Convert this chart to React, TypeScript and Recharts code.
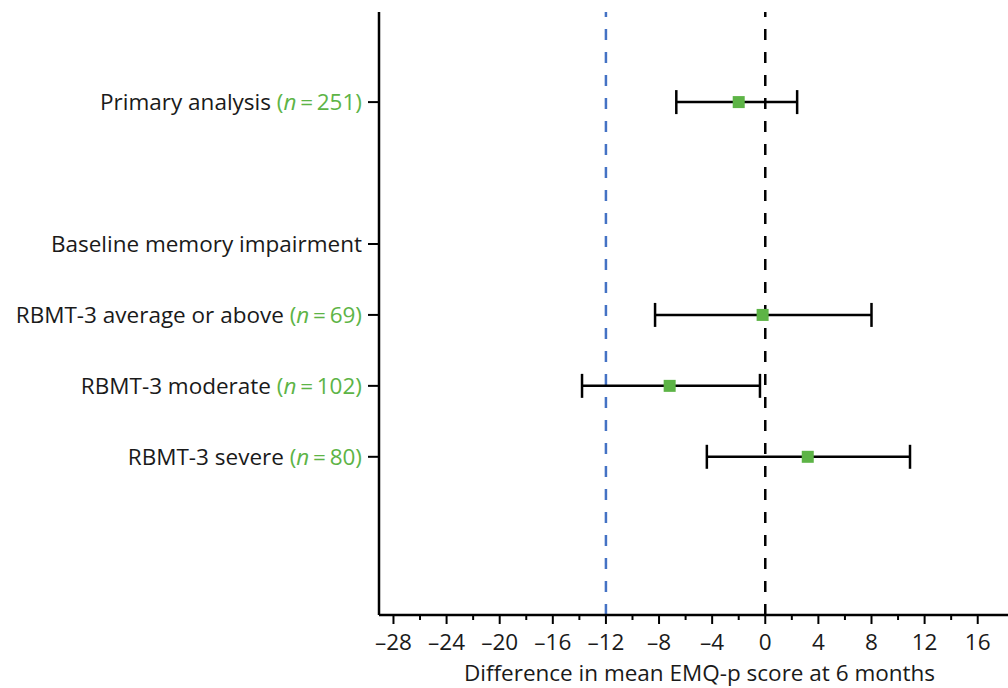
import { ScatterChart, Scatter, XAxis, YAxis, ReferenceLine, ErrorBar } from "recharts"

// forest plot: difference in mean EMQ-p score at 6 months

const rowLabels = [
  "Primary analysis",
  "Baseline memory impairment",
  "RBMT-3 average or above",
  "RBMT-3 moderate",
  "RBMT-3 severe",
]
const rowIndex = [1, 3, 4, 5, 6]
const sampleSizes: (number | null)[] = [251, null, 69, 102, 80]
const means: (number | null)[] = [-2.0, null, -0.2, -7.2, 3.2]
const lowerCI: (number | null)[] = [-6.7, null, -8.3, -13.8, -4.4]
const upperCI: (number | null)[] = [2.4, null, 8.0, -0.4, 10.9]

const xTicks = [-28, -26, -24, -22, -20, -18, -16, -14, -12, -10, -8, -6, -4, -2, 0, 2, 4, 6, 8, 10, 12, 14, 16]
const margin = -12 // non-inferiority margin
const noEffect = 0

const GREEN = "#5DB446"
const TEXT = "#1a1a1a"
const FONT = "'Open Sans', sans-serif"

const points = rowLabels
  .map((label, i) => ({
    label,
    row: rowIndex[i],
    mean: means[i],
    err: means[i] == null ? null : [means[i]! - lowerCI[i]!, upperCI[i]! - means[i]!],
  }))
  .filter((p) => p.mean != null)

const XTick = ({ x, y, payload }: any) => {
  const v = payload.value as number
  const major = v % 4 === 0
  return (
    <g>
      <line x1={x} x2={x} y1={y} y2={y + (major ? 9 : 5)} stroke="#000" strokeWidth={2} />
      {major && (
        <text x={x} y={y + 35} textAnchor="middle" fontSize={22.5} fontFamily={FONT} fill={TEXT}>
          {v < 0 ? `\u2013${Math.abs(v)}` : v}
        </text>
      )}
    </g>
  )
}

const YTick = ({ x, y, payload }: any) => {
  const i = rowIndex.indexOf(payload.value)
  if (i < 0) return null
  const n = sampleSizes[i]
  return (
    <g>
      <line x1={x - 11} x2={x} y1={y} y2={y} stroke="#000" strokeWidth={2} />
      <text x={x - 17} y={y} dy="0.35em" textAnchor="end" fontSize={22.5} fontFamily={FONT} fill={TEXT}>
        {rowLabels[i]}
        {n != null && (
          <tspan fill={GREEN}>
            {" ("}
            <tspan fontStyle="italic">n</tspan>
            {"\u2009=\u2009" + n + ")"}
          </tspan>
        )}
      </text>
    </g>
  )
}

const Square = (props: any) => {
  const { cx, cy } = props
  if (cx == null || cy == null) return null
  return <rect x={cx - 6} y={cy - 6} width={12} height={12} fill={GREEN} />
}

export default function App() {
  return (
    <div style={{ position: "absolute", left: 0, top: 0, background: "#fff" }}>
      <ScatterChart width={1008} height={688} margin={{ top: 12, right: 0, bottom: 0, left: 0 }}>
        <XAxis
          type="number"
          dataKey="mean"
          domain={[-29.09, 18.28]}
          allowDataOverflow
          ticks={xTicks}
          interval={0}
          height={73}
          tickLine={false}
          tickSize={0}
          tickMargin={0}
          axisLine={{ stroke: "#000", strokeWidth: 2.5 }}
          tick={<XTick />}
          label={{
            value: "Difference in mean EMQ-p score at 6 months",
            position: "insideBottom",
            offset: 7,
            dx: 6,
            fontSize: 22.5,
            fontFamily: FONT,
            fill: TEXT,
          }}
        />
        <YAxis
          type="number"
          dataKey="row"
          reversed
          domain={[-0.27, 8.23]}
          allowDataOverflow
          ticks={rowIndex}
          interval={0}
          width={379}
          tickLine={false}
          tickSize={0}
          tickMargin={0}
          axisLine={{ stroke: "#000", strokeWidth: 2.5 }}
          tick={<YTick />}
        />
        <ReferenceLine x={margin} stroke="#4472C4" strokeWidth={2.5} strokeDasharray="11 12" />
        <ReferenceLine x={noEffect} stroke="#000" strokeWidth={2.5} strokeDasharray="11 12" />
        <Scatter data={points} shape={<Square />} isAnimationActive={false}>
          <ErrorBar dataKey="err" direction="x" width={12} stroke="#000" strokeWidth={2.5} />
        </Scatter>
      </ScatterChart>
    </div>
  )
}
